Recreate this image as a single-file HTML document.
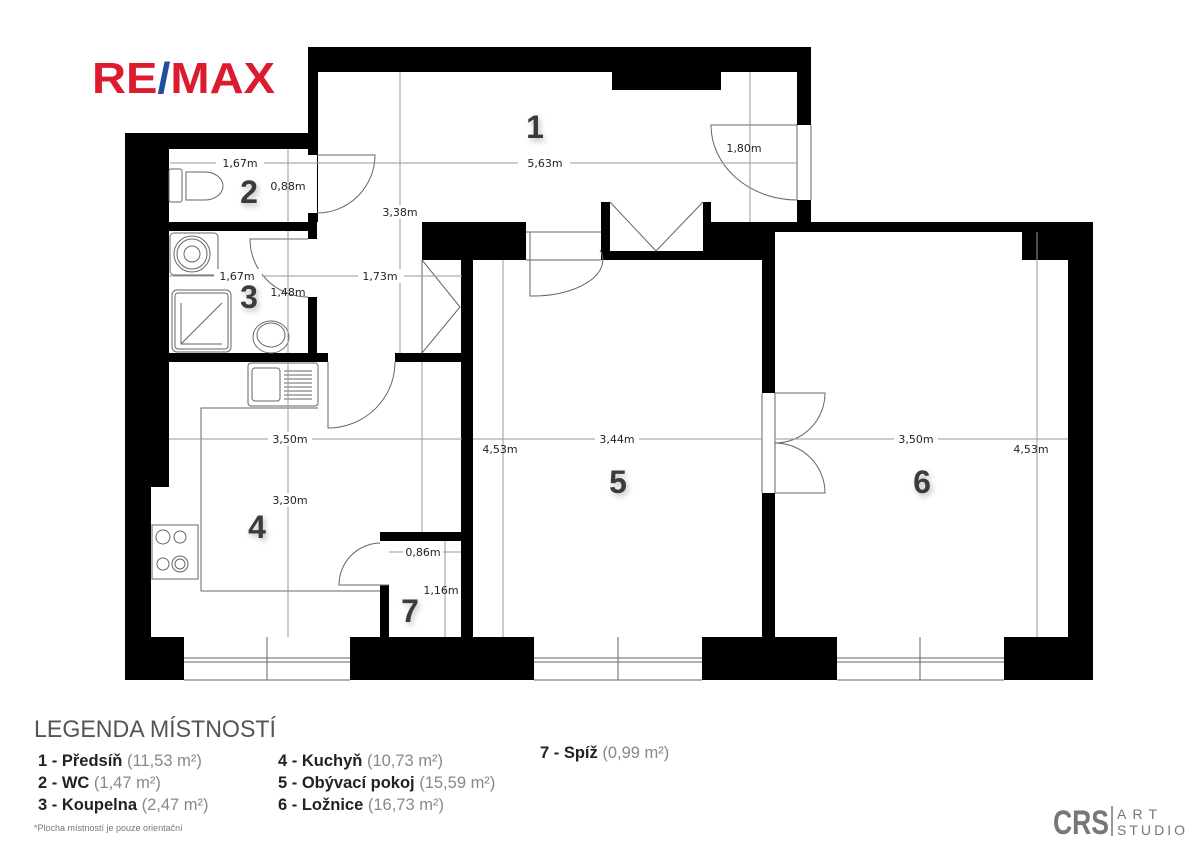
<!DOCTYPE html>
<html><head><meta charset="utf-8"><style>
html,body{margin:0;padding:0;background:#fff;}
svg{display:block;}
.d{stroke:#9a9a9a;stroke-width:1;fill:none;}
.f{stroke:#666;stroke-width:1;fill:none;}
.dt{font-family:"DejaVu Sans","Liberation Sans",sans-serif;font-size:11px;fill:#222;}
.n{font-family:"Liberation Sans",sans-serif;font-size:32px;font-weight:bold;fill:#3a3a3a;filter:url(#sh);}
.lg{font-family:"Liberation Sans",sans-serif;font-size:16.5px;fill:#222;}
.lg tspan.b{font-weight:bold;}
.lg tspan.g{fill:#888;font-weight:normal;}
</style></head><body>
<svg width="1200" height="847" viewBox="0 0 1200 847" xmlns="http://www.w3.org/2000/svg">
<defs>
<filter id="sh" x="-50%" y="-50%" width="200%" height="200%"><feDropShadow dx="2" dy="3" stdDeviation="3" flood-color="#000" flood-opacity="0.25"/></filter>
</defs>
<rect width="1200" height="847" fill="#fff"/>
<text x="92" y="93" font-family="Liberation Sans,sans-serif" font-weight="bold" font-size="44" textLength="183" lengthAdjust="spacingAndGlyphs" fill="#dc1c2e">RE<tspan fill="#1f4fa0">/</tspan>MAX</text>

<polygon points="308,47 811,47 811,222 1093,222 1093,680 125,680 125,133 308,133" fill="#000"/>
<g fill="#fff">
<rect x="318" y="72" width="479" height="150"/>
<rect x="317" y="222" width="105" height="131"/>
<rect x="422" y="260" width="39" height="93"/>
<rect x="169" y="149" width="139" height="73"/>
<rect x="169" y="231" width="139" height="122"/>
<rect x="169" y="362" width="292" height="275"/>
<rect x="151" y="487" width="20" height="150"/>
<rect x="473" y="260" width="289" height="377"/>
<rect x="775" y="232" width="293" height="405"/>
<rect x="797" y="125" width="14" height="75"/>
<rect x="308" y="155" width="9" height="58"/>
<rect x="308" y="239" width="9" height="58"/>
<rect x="328" y="353" width="67" height="9"/>
<rect x="526" y="222" width="75" height="38"/>
<rect x="762" y="393" width="13" height="100"/>
<rect x="184" y="637" width="166" height="43"/>
<rect x="534" y="637" width="168" height="43"/>
<rect x="837" y="637" width="167" height="43"/>
</g>
<rect x="612" y="72" width="109" height="18" fill="#000"/>
<rect x="601" y="202" width="110" height="20" fill="#000"/>
<rect x="610" y="202" width="93" height="49" fill="#fff"/>
<path d="M610,202 L656,251 L703,202" class="f"/>
<rect x="1022" y="232" width="46" height="28" fill="#000"/>
<rect x="380" y="532" width="81" height="105" fill="#000"/>
<rect x="389" y="541" width="72" height="96" fill="#fff"/>
<rect x="380" y="541" width="9" height="44" fill="#fff"/>

<g class="f" stroke="#888">
<path d="M184,658H350M184,662H350M267,637V680M184,680H350"/>
<path d="M534,658H702M534,662H702M618,637V680M534,680H702"/>
<path d="M837,658H1004M837,662H1004M920,637V680M837,680H1004"/>
<path d="M797,125V200M811,125V200"/>
<path d="M526,232H601M526,260H601M762,393V493M775,393V493"/>
</g>
<g class="f">
<path d="M797,125 H711 A86,75 0 0 0 797,200"/>
<path d="M317,155 H375 A58,58 0 0 1 317,213"/>
<path d="M308,239 H250 A58,58 0 0 0 308,297"/>
<path d="M328,362 V428 A67,66 0 0 0 395,362"/>
<path d="M530,260 V296 A70,36 0 0 0 600,250"/>
<path d="M530,232 V296"/>
<path d="M775,393 H825 A50,50 0 0 1 775,443 A50,50 0 0 1 825,493 H775"/>
<path d="M380,543 A42,42 0 0 0 339,585 H389"/>
<path d="M422,260 V353 M422,260 L460,307 L422,353"/>
<path d="M318,408 H201 V591 H380"/>
<rect x="248" y="363" width="70" height="43" rx="3"/>
<rect x="252" y="368" width="28" height="33" rx="3"/>
<path d="M284,371H312M284,375H312M284,379H312M284,383H312M284,387H312M284,391H312M284,395H312M284,399H312"/>
<rect x="152" y="525" width="46" height="54"/>
<circle cx="163" cy="537" r="7"/><circle cx="180" cy="537" r="6"/>
<circle cx="163" cy="564" r="6"/><circle cx="180" cy="564" r="8"/><circle cx="180" cy="564" r="5"/>
<rect x="169" y="169" width="13" height="33" rx="2"/>
<path d="M186,172 H205 A18,14 0 0 1 205,200 H186 Z"/>
<rect x="170" y="233" width="48" height="42" rx="4"/>
<circle cx="192" cy="254" r="18"/><circle cx="192" cy="254" r="15"/><circle cx="192" cy="254" r="8"/>
<rect x="172" y="290" width="59" height="62" rx="5"/>
<rect x="175" y="293" width="53" height="56" rx="3"/>
<path d="M181,344 L222,303 M181,303 V344 H222"/>
<ellipse cx="271" cy="337" rx="18" ry="16"/>
<ellipse cx="271" cy="335" rx="14" ry="12"/>
</g>

<g class="d">
<path d="M170,163 H797"/>
<path d="M400,72 V353"/>
<path d="M750,72 V222"/>
<path d="M288,149 V222"/>
<path d="M288,231 V353"/>
<path d="M169,276 H462"/>
<path d="M169,439 H462 M473,439 H762 M775,439 H1068"/>
<path d="M288,362 V637"/>
<path d="M422,362 V532"/>
<path d="M503,260 V637"/>
<path d="M1037,232 V637"/>
<path d="M389,552 H461"/>
<path d="M445,541 V637"/>
</g>
<g class="dt" text-anchor="middle">
<rect x="216" y="156" width="48" height="14" fill="#fff"/><text x="240" y="167">1,67m</text>
<rect x="518" y="156" width="52" height="14" fill="#fff"/><text x="545" y="167">5,63m</text>
<text x="744" y="152">1,80m</text>
<text x="288" y="190">0,88m</text>
<rect x="380" y="205" width="40" height="14" fill="#fff"/><text x="400" y="216">3,38m</text>
<rect x="214" y="269" width="48" height="14" fill="#fff"/><text x="237" y="280">1,67m</text>
<rect x="358" y="269" width="46" height="14" fill="#fff"/><text x="380" y="280">1,73m</text>
<text x="288" y="296">1,48m</text>
<rect x="268" y="432" width="44" height="14" fill="#fff"/><text x="290" y="443">3,50m</text>
<rect x="595" y="432" width="44" height="14" fill="#fff"/><text x="617" y="443">3,44m</text>
<rect x="894" y="432" width="44" height="14" fill="#fff"/><text x="916" y="443">3,50m</text>
<text x="500" y="453">4,53m</text>
<text x="1031" y="453">4,53m</text>
<rect x="268" y="493" width="44" height="14" fill="#fff"/><text x="290" y="504">3,30m</text>
<rect x="403" y="545" width="40" height="14" fill="#fff"/><text x="423" y="556">0,86m</text>
<text x="441" y="594">1,16m</text>
</g>
<g class="n" text-anchor="middle">
<text x="535" y="138">1</text>
<text x="249" y="203">2</text>
<text x="249" y="308">3</text>
<text x="257" y="538">4</text>
<text x="618" y="493">5</text>
<text x="922" y="493">6</text>
<text x="410" y="622">7</text>
</g>

<text x="34" y="737" font-family="Liberation Sans,sans-serif" font-size="24" fill="#555" textLength="242" lengthAdjust="spacingAndGlyphs">LEGENDA MÍSTNOSTÍ</text>
<g class="lg">
<text x="38" y="766"><tspan class="b">1 - Předsíň</tspan><tspan class="g"> (11,53 m²)</tspan></text>
<text x="38" y="788"><tspan class="b">2 - WC</tspan><tspan class="g"> (1,47 m²)</tspan></text>
<text x="38" y="810"><tspan class="b">3 - Koupelna</tspan><tspan class="g"> (2,47 m²)</tspan></text>
<text x="278" y="766"><tspan class="b">4 - Kuchyň</tspan><tspan class="g"> (10,73 m²)</tspan></text>
<text x="278" y="788"><tspan class="b">5 - Obývací pokoj</tspan><tspan class="g"> (15,59 m²)</tspan></text>
<text x="278" y="810"><tspan class="b">6 - Ložnice</tspan><tspan class="g"> (16,73 m²)</tspan></text>
<text x="540" y="758"><tspan class="b">7 - Spíž</tspan><tspan class="g"> (0,99 m²)</tspan></text>
</g>
<text x="34" y="831" font-family="Liberation Sans,sans-serif" font-size="9" fill="#777">*Plocha místností je pouze orientační</text>

<text x="1053" y="834" font-family="Liberation Sans,sans-serif" font-weight="bold" font-size="34" fill="#777" textLength="56" lengthAdjust="spacingAndGlyphs">CRS</text>
<path d="M1112,806 V836" stroke="#777" stroke-width="1.5"/>
<text x="1117" y="819" font-family="Liberation Sans,sans-serif" font-size="14" fill="#777" textLength="40" lengthAdjust="spacing">ART</text>
<text x="1117" y="835" font-family="Liberation Sans,sans-serif" font-size="14" fill="#777" textLength="68" lengthAdjust="spacing">STUDIO</text>
</svg>
</body></html>
